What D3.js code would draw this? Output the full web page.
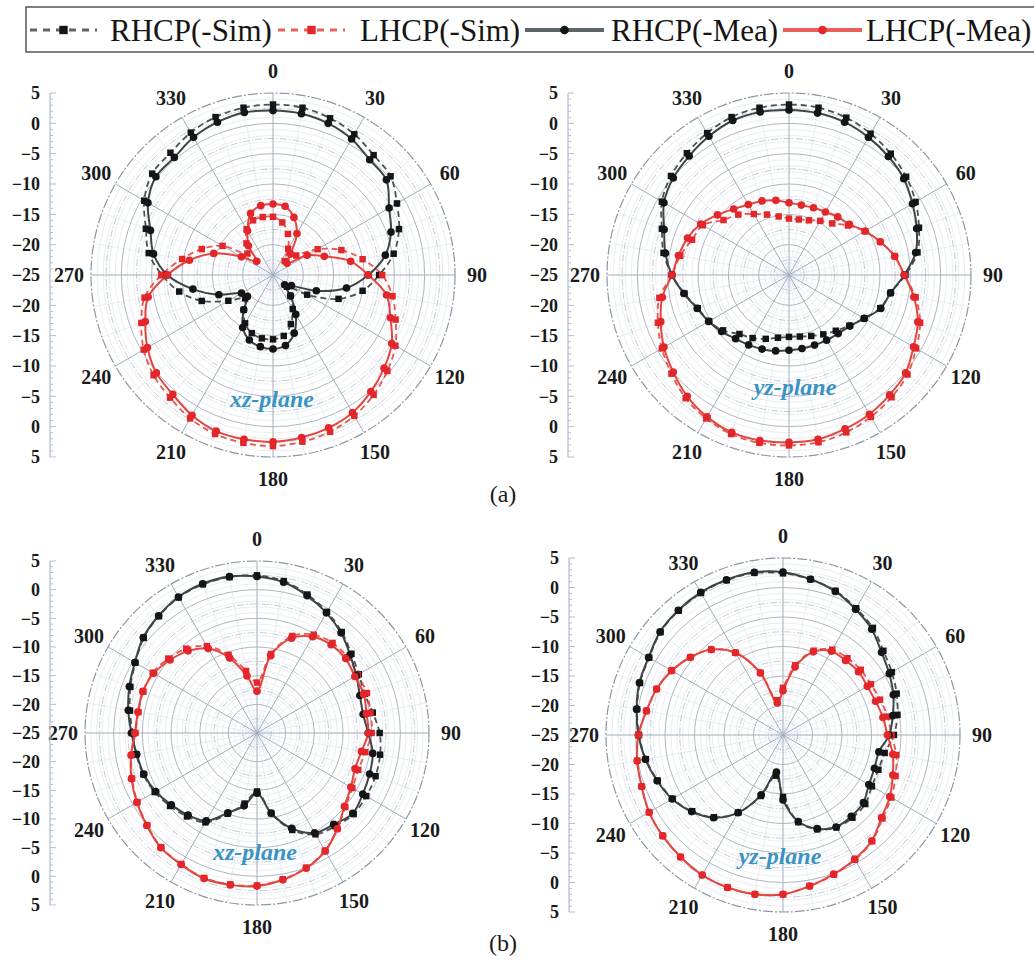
<!DOCTYPE html>
<html>
<head>
<meta charset="utf-8">
<script src="https://cdn.jsdelivr.net/npm/d3@7"></script>
<style>
  body { margin: 0; background: #fff; }
  svg { display: block; }
</style>
</head>
<body>
<svg id="chart" width="1034" height="962"></svg>
<script>
// Sample angles (degrees) shared by every pattern cut
const angles = d3.range(0, 360, 10);
const angleTicks = d3.range(0, 360, 30);
const topTicks = [5, 0, -5, -10, -15, -20, -25];
const bottomTicks = [-20, -15, -10, -5, 0, 5];
const legendLabels = ["RHCP(-Sim)", "LHCP(-Sim)", "RHCP(-Mea)", "LHCP(-Mea)"];
const planeLabels = ["xz-plane", "yz-plane", "xz-plane", "yz-plane"];
const figureTags = ["(a)", "(b)"];

// Gain (dB) at 0,10,...,350 deg — (a) xz-plane
const aXzRhcpSim = [3.1, 3.0, 2.5, 1.8, 0.8, 0.3, -1.4, -2.9, -4.8, -7.5, -10.0, -13.5, -18.5, -22.0, -20.5, -18.5, -16.4, -14.8, -14.4, -14.4, -14.8, -15.8, -17.5, -19.0, -16.5, -12.5, -9.3, -6.7, -4.2, -2.7, -0.5, 1.0, 1.3, 2.1, 2.7, 3.0];
const aXzLhcpSim = [-15.4, -16.2, -17.8, -20.0, -22.0, -20.0, -16.5, -13.0, -10.0, -7.0, -5.0, -3.5, -1.7, -0.4, 0.8, 1.8, 2.5, 2.9, 3.2, 3.1, 2.9, 2.3, 1.4, 0.7, -0.4, -1.9, -3.5, -6.6, -9.8, -12.5, -15.4, -19.5, -18.2, -16.3, -15.4, -15.3];
const aXzRhcpMea = [2.1, 2.0, 1.6, 0.9, -0.2, -0.6, -2.9, -4.3, -6.2, -9.3, -12.7, -17.4, -21.5, -22.5, -20.5, -17.5, -14.8, -13.2, -12.8, -13.0, -13.6, -15.0, -17.5, -19.5, -19.0, -15.5, -11.6, -7.6, -5.0, -3.5, -1.2, 0.2, 0.3, 1.2, 1.8, 2.2];
const aXzLhcpMea = [-13.3, -13.5, -14.9, -17.1, -20.5, -22.0, -18.5, -16.0, -12.0, -9.3, -6.0, -4.4, -2.4, -1.1, 0.1, 1.2, 1.8, 2.2, 2.5, 2.5, 2.4, 1.7, 0.7, 0.1, -1.1, -2.6, -4.1, -7.6, -11.0, -14.6, -19.0, -21.5, -18.7, -16.6, -14.2, -13.4];

// (a) yz-plane
const aYzRhcpSim = [3.1, 3.0, 2.6, 1.9, 1.1, 0.2, -0.9, -2.2, -3.5, -5.8, -8.0, -9.0, -10.7, -12.0, -13.0, -13.7, -14.3, -14.7, -14.8, -14.5, -13.8, -13.0, -12.3, -10.8, -9.8, -9.0, -7.5, -5.7, -4.0, -2.7, -0.8, 0.4, 1.2, 2.0, 2.7, 3.0];
const aYzLhcpSim = [-15.7, -15.7, -15.4, -14.7, -13.9, -12.3, -10.6, -9.0, -7.3, -6.0, -3.8, -2.0, -0.8, 0.5, 1.3, 2.0, 2.6, 3.0, 3.1, 3.1, 2.9, 2.3, 1.5, 0.3, -0.8, -2.0, -3.3, -5.7, -6.8, -8.0, -8.6, -10.9, -12.0, -13.4, -14.4, -15.2];
const aYzRhcpMea = [2.2, 2.1, 1.8, 1.2, 0.5, -0.3, -1.5, -2.6, -3.8, -6.0, -8.0, -8.9, -10.7, -11.9, -12.4, -12.6, -12.7, -12.7, -12.6, -12.3, -12.0, -11.7, -11.3, -10.5, -9.7, -8.9, -7.4, -5.7, -4.3, -3.1, -1.2, -0.1, 0.6, 1.4, 2.1, 2.3];
const aYzLhcpMea = [-13.1, -13.3, -13.2, -13.0, -12.5, -12.0, -10.5, -9.0, -7.3, -6.0, -4.1, -2.4, -1.3, 0.1, 0.8, 1.5, 2.0, 2.5, 2.6, 2.7, 2.6, 2.0, 1.1, -0.1, -1.2, -2.5, -3.8, -5.7, -6.5, -7.2, -8.2, -9.6, -10.8, -11.6, -12.0, -12.5];

// (b) xz-plane
const bXzRhcpSim = [2.5, 1.9, 0.7, -0.6, -2.0, -3.5, -4.5, -5.0, -4.5, -3.6, -3.2, -3.0, -3.0, -3.0, -3.8, -4.6, -7.0, -10.8, -14.8, -12.5, -10.0, -7.0, -6.0, -5.2, -4.4, -3.9, -3.6, -3.3, -2.5, -1.5, -0.5, 0.8, 1.6, 2.3, 2.6, 2.6];
const bXzLhcpSim = [-16.2, -11.0, -7.0, -5.2, -4.5, -4.4, -4.7, -4.6, -4.9, -5.0, -5.8, -6.2, -5.8, -4.9, -3.2, -1.3, 0.0, 0.9, 1.6, 1.8, 1.9, 1.4, 1.0, 0.0, -0.9, -1.8, -2.8, -3.8, -4.0, -3.9, -4.0, -4.8, -5.8, -7.5, -10.5, -14.0];
const bXzRhcpMea = [2.3, 1.7, 0.5, -0.8, -2.2, -3.8, -5.0, -5.9, -6.2, -5.6, -4.5, -4.1, -3.7, -3.2, -4.2, -4.9, -7.3, -10.8, -14.5, -12.1, -10.2, -7.3, -6.3, -5.5, -4.6, -4.0, -3.7, -3.1, -2.2, -1.3, -0.4, 0.9, 1.7, 2.4, 2.7, 2.7];
const bXzLhcpMea = [-17.7, -11.3, -7.4, -5.6, -4.9, -4.8, -5.3, -5.2, -5.6, -5.6, -6.5, -6.8, -6.1, -5.1, -3.2, -1.2, 0.1, 1.0, 1.7, 1.9, 2.0, 1.5, 1.1, 0.1, -0.8, -1.7, -2.7, -3.7, -3.9, -3.8, -4.2, -5.2, -6.3, -8.0, -11.1, -14.9];

// (b) yz-plane
const bYzRhcpSim = [2.4, 1.8, 1.0, -0.2, -1.3, -2.8, -3.7, -4.5, -5.3, -6.2, -7.5, -7.8, -7.6, -6.8, -6.7, -6.9, -8.0, -10.0, -14.5, -18.0, -14.0, -9.8, -6.8, -4.9, -3.4, -2.4, -1.4, -0.6, 0.1, 0.8, 1.2, 2.1, 2.5, 2.8, 2.9, 2.9];
const bYzLhcpSim = [-17.0, -13.0, -9.8, -8.3, -8.0, -7.8, -7.8, -7.5, -7.0, -6.6, -5.5, -4.7, -3.8, -3.0, -1.5, -0.6, 0.2, 1.0, 2.0, 2.4, 2.5, 2.4, 2.0, 1.6, 1.2, 0.5, 0.1, -0.5, -1.5, -2.2, -3.2, -4.5, -6.1, -8.9, -13.8, -19.0];
const bYzRhcpMea = [2.6, 1.8, 0.9, -0.4, -1.6, -3.2, -4.2, -5.1, -6.1, -7.0, -8.5, -8.5, -8.2, -7.2, -7.0, -7.0, -8.1, -10.1, -14.0, -18.6, -14.2, -9.8, -6.7, -4.8, -3.3, -2.3, -1.3, -0.5, 0.2, 0.9, 1.3, 2.2, 2.6, 2.9, 3.0, 3.0];
const bYzLhcpMea = [-17.5, -13.3, -10.0, -8.6, -8.5, -8.3, -8.5, -8.3, -7.8, -7.3, -6.1, -5.2, -4.1, -3.2, -1.6, -0.7, 0.1, 1.0, 2.0, 2.4, 2.5, 2.4, 2.0, 1.6, 1.2, 0.5, 0.1, -0.5, -1.5, -2.2, -3.2, -4.5, -6.1, -8.9, -13.8, -19.5];

// Series styling (order = draw order)
const seriesStyle = [
  { key: "rs", line: "#4a5256", legendLine: "#5c6569", marker: "#151515", dash: "6,4", symbol: d3.symbolSquare, width: 1.8 },
  { key: "ls", line: "#e8564f", legendLine: "#e8605a", marker: "#e3262a", dash: "6,4", symbol: d3.symbolSquare, width: 1.8 },
  { key: "rm", line: "#3d4447", legendLine: "#5c6569", marker: "#151515", dash: null, symbol: d3.symbolCircle, width: 2 },
  { key: "lm", line: "#e4463f", legendLine: "#e8605a", marker: "#e3262a", dash: null, symbol: d3.symbolCircle, width: 2 }
];

const panels = [
  { cx: 273, cy: 275, R: 182, axisX: 50, lx: 272, ly: 407, label: planeLabels[0],
    data: { rs: aXzRhcpSim, ls: aXzLhcpSim, rm: aXzRhcpMea, lm: aXzLhcpMea } },
  { cx: 789, cy: 275, R: 182, axisX: 568, lx: 795, ly: 395, label: planeLabels[1],
    data: { rs: aYzRhcpSim, ls: aYzLhcpSim, rm: aYzRhcpMea, lm: aYzLhcpMea } },
  { cx: 257, cy: 733, R: 172, axisX: 50, lx: 255, ly: 860, label: planeLabels[2],
    data: { rs: bXzRhcpSim, ls: bXzLhcpSim, rm: bXzRhcpMea, lm: bXzLhcpMea } },
  { cx: 783, cy: 735, R: 177, axisX: 569, lx: 780, ly: 864, label: planeLabels[3],
    data: { rs: bYzRhcpSim, ls: bYzLhcpSim, rm: bYzRhcpMea, lm: bYzLhcpMea } }
];

const svg = d3.select("#chart");
const serif = "'Liberation Serif', 'Times New Roman', serif";
const toRad = d => d * Math.PI / 180;

panels.forEach(p => {
  const g = svg.append("g").attr("transform", `translate(${p.cx},${p.cy})`);
  const r = d3.scaleLinear().domain([-25, 5]).range([0, p.R]).clamp(true);

  // faint minor rings
  g.append("g").selectAll("circle")
    .data(d3.range(-24, 5, 1).filter(v => v % 5 !== 0 && (v * 2) % 5 !== 0))
    .join("circle").attr("r", d => r(d))
    .attr("fill", "none").attr("stroke", "#e2e8f0").attr("stroke-width", 0.8);
  // minor spokes
  g.append("g").selectAll("line")
    .data(d3.range(0, 360, 10).filter(a => a % 30 !== 0))
    .join("line")
    .attr("x1", 0).attr("y1", 0)
    .attr("x2", d => p.R * Math.sin(toRad(d)))
    .attr("y2", d => -p.R * Math.cos(toRad(d)))
    .attr("stroke", "#e3e9f1").attr("stroke-width", 0.8);
  // half-step rings (dash-dot)
  g.append("g").selectAll("circle")
    .data([-22.5, -17.5, -12.5, -7.5, -2.5, 2.5])
    .join("circle").attr("r", d => r(d))
    .attr("fill", "none").attr("stroke", "#bcc4d2").attr("stroke-width", 0.9)
    .attr("stroke-dasharray", "7,2,1.5,2");
  // main rings
  g.append("g").selectAll("circle")
    .data([-20, -15, -10, -5, 0])
    .join("circle").attr("r", d => r(d))
    .attr("fill", "none").attr("stroke", "#aeb6c6").attr("stroke-width", 1);
  // main spokes
  g.append("g").selectAll("line")
    .data(angleTicks)
    .join("line")
    .attr("x1", 0).attr("y1", 0)
    .attr("x2", d => p.R * Math.sin(toRad(d)))
    .attr("y2", d => -p.R * Math.cos(toRad(d)))
    .attr("stroke", "#a3acbd").attr("stroke-width", 1);
  // outer ring
  g.append("circle").attr("r", r(5)).attr("fill", "none")
    .attr("stroke", "#8d96a8").attr("stroke-width", 1.2)
    .attr("stroke-dasharray", "10,2,2,2");

  // angle labels
  g.append("g").selectAll("text")
    .data(angleTicks)
    .join("text")
    .attr("x", d => (p.R + 22) * Math.sin(toRad(d)))
    .attr("y", d => -(p.R + 22) * Math.cos(toRad(d)))
    .attr("dy", "0.35em")
    .attr("text-anchor", "middle")
    .attr("font-family", serif).attr("font-weight", "bold").attr("font-size", 20)
    .attr("fill", "#1a1a1a")
    .text(d => d);

  // pattern curves
  const line = d3.lineRadial()
    .angle((d, i) => toRad(angles[i]))
    .radius(d => r(d))
    .curve(d3.curveCatmullRomClosed.alpha(0.5));
  seriesStyle.forEach(s => {
    g.append("path")
      .attr("d", line(p.data[s.key]))
      .attr("fill", "none")
      .attr("stroke", s.line)
      .attr("stroke-width", s.width)
      .attr("stroke-dasharray", s.dash);
  });
  seriesStyle.forEach(s => {
    g.append("g").selectAll("path")
      .data(p.data[s.key])
      .join("path")
      .attr("transform", (d, i) => {
        const a = toRad(angles[i]);
        return `translate(${r(d) * Math.sin(a)},${-r(d) * Math.cos(a)})`;
      })
      .attr("d", d3.symbol(s.symbol, s.symbol === d3.symbolSquare ? 42 : 46))
      .attr("fill", s.marker);
  });

  // plane label
  svg.append("text")
    .attr("x", p.lx).attr("y", p.ly)
    .attr("text-anchor", "middle")
    .attr("font-family", serif).attr("font-style", "italic").attr("font-weight", "bold")
    .attr("font-size", 24).attr("fill", "#3a93c2")
    .text(p.label);

  // radial dB axis at the left (mirrored above/below centre)
  const yTop = d3.scaleLinear().domain([-25, 5]).range([p.cy, p.cy - p.R]);
  const yBot = d3.scaleLinear().domain([-25, 5]).range([p.cy, p.cy + p.R]);
  const ax = svg.append("g");
  ax.append("line")
    .attr("x1", p.axisX).attr("x2", p.axisX)
    .attr("y1", p.cy - p.R).attr("y2", p.cy + p.R)
    .attr("stroke", "#b3bccb").attr("stroke-width", 1.2);
  const minor = d3.range(-24, 6, 1);
  [yTop, yBot].forEach(sc => {
    ax.append("g").selectAll("line")
      .data(minor)
      .join("line")
      .attr("x1", p.axisX).attr("x2", d => p.axisX + (d % 5 === 0 ? 6 : 3))
      .attr("y1", d => sc(d)).attr("y2", d => sc(d))
      .attr("stroke", "#b3bccb").attr("stroke-width", 1);
  });
  const labelAxisTop = d3.axisLeft(yTop).tickValues(topTicks).tickSize(0).tickPadding(10).tickFormat(d3.format("d"));
  const labelAxisBot = d3.axisLeft(yBot).tickValues(bottomTicks).tickSize(0).tickPadding(10).tickFormat(d3.format("d"));
  [labelAxisTop, labelAxisBot].forEach(a => {
    const gg = ax.append("g").attr("transform", `translate(${p.axisX},0)`).call(a);
    gg.select(".domain").remove();
    gg.selectAll("text")
      .attr("font-family", serif).attr("font-weight", "bold").attr("font-size", 18)
      .attr("fill", "#1a1a1a");
  });
});

// figure tags
svg.append("text").attr("x", 503).attr("y", 502).attr("text-anchor", "middle")
  .attr("font-family", serif).attr("font-size", 24).attr("fill", "#1a1a1a").text(figureTags[0]);
svg.append("text").attr("x", 503).attr("y", 951).attr("text-anchor", "middle")
  .attr("font-family", serif).attr("font-size", 24).attr("fill", "#1a1a1a").text(figureTags[1]);

// legend
const lg = svg.append("g");
lg.append("rect").attr("x", 26).attr("y", 7).attr("width", 1040).attr("height", 45)
  .attr("fill", "#fff").attr("stroke", "#555").attr("stroke-width", 1.5);
const legendItems = [
  { x0: 30, x1: 97, text: 110, s: seriesStyle[0] },
  { x0: 278, x1: 345, text: 360, s: seriesStyle[1] },
  { x0: 525, x1: 604, text: 611, s: seriesStyle[2] },
  { x0: 783, x1: 862, text: 866, s: seriesStyle[3] }
];
legendItems.forEach((it, i) => {
  const y = 30;
  lg.append("line").attr("x1", it.x0).attr("x2", it.x1).attr("y1", y).attr("y2", y)
    .attr("stroke", it.s.legendLine)
    .attr("stroke-width", it.s.dash ? 3 : 4)
    .attr("stroke-dasharray", it.s.dash ? "7,6" : null);
  lg.append("path")
    .attr("transform", `translate(${(it.x0 + it.x1) / 2},${y})`)
    .attr("d", d3.symbol(it.s.symbol, it.s.symbol === d3.symbolSquare ? 70 : 60))
    .attr("fill", it.s.marker);
  lg.append("text").attr("x", it.text).attr("y", 41)
    .attr("font-family", serif).attr("font-size", 31).attr("fill", "#151515")
    .text(legendLabels[i]);
});
</script>
</body>
</html>
